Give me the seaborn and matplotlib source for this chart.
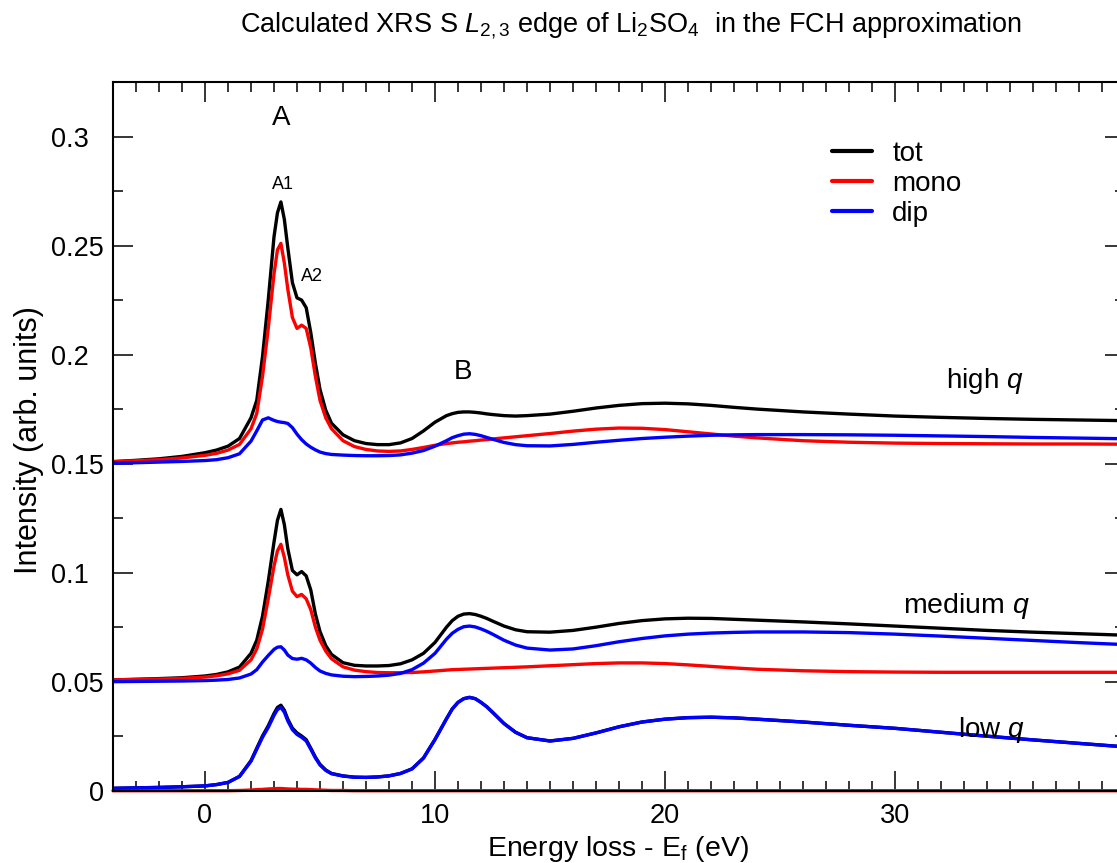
import matplotlib
matplotlib.use("Agg")
import matplotlib.pyplot as plt
import seaborn as sns
from matplotlib.ticker import MultipleLocator, FixedLocator

# ---------------- data ----------------
energy = [-4, -3, -2, -1, 0, 0.5, 1, 1.5, 2, 2.25, 2.5, 2.75, 3, 3.15, 3.3, 3.45, 3.6, 3.8,
          4.0, 4.2, 4.4, 4.6, 4.8, 5.0, 5.25, 5.5, 6, 6.5, 7, 7.5, 8, 8.5, 9, 9.5, 10, 10.5,
          10.75, 11, 11.25, 11.5, 11.75, 12, 12.25, 12.5, 13, 13.5, 14, 15, 16, 17, 18, 19,
          20, 21, 22, 23, 24, 26, 28, 30, 32, 34, 36, 38, 40]

high_tot = [0.1509, 0.1515, 0.1522, 0.1533, 0.1550, 0.1562, 0.1580, 0.1615, 0.1710, 0.1790,
            0.1990, 0.2250, 0.2540, 0.2650, 0.2700, 0.2620, 0.2490, 0.2330, 0.2260, 0.2250,
            0.2215, 0.2100, 0.1960, 0.1840, 0.1745, 0.1685, 0.1632, 0.1605, 0.1592, 0.1587,
            0.1587, 0.1595, 0.1615, 0.1650, 0.1690, 0.1720,
            0.1729, 0.1735, 0.1737, 0.1737, 0.1735, 0.1732, 0.1728, 0.1725,
            0.1720, 0.1718, 0.1720, 0.1727, 0.1740, 0.1755, 0.1767, 0.1775, 0.1777, 0.1774,
            0.1767, 0.1758, 0.1750, 0.1737, 0.1727, 0.1718, 0.1712, 0.1707, 0.1703, 0.1700,
            0.1697]
high_mono = [0.1509, 0.1513, 0.1518, 0.1526, 0.1538, 0.1547, 0.1562, 0.1588, 0.1660, 0.1730,
             0.1900, 0.2120, 0.2370, 0.2480, 0.2510, 0.2420, 0.2300, 0.2170, 0.2120, 0.2135,
             0.2120, 0.2030, 0.1900, 0.1790, 0.1710, 0.1660, 0.1605, 0.1578, 0.1565, 0.1558,
             0.1556, 0.1558, 0.1565, 0.1574, 0.1584, 0.1592,
             0.1595, 0.1598, 0.1600, 0.1603, 0.1605, 0.1608, 0.1610, 0.1613,
             0.1618, 0.1623, 0.1628, 0.1638, 0.1649, 0.1658, 0.1663, 0.1662, 0.1656, 0.1646,
             0.1636, 0.1626, 0.1618, 0.1605, 0.1598, 0.1594, 0.1592, 0.1591, 0.1590, 0.1590,
             0.1589]
high_dip = [0.1502, 0.1504, 0.1507, 0.1510, 0.1514, 0.1518, 0.1527, 0.1545, 0.1603, 0.1650,
            0.1700, 0.1710, 0.1698, 0.1693, 0.1690, 0.1688, 0.1684, 0.1665, 0.1635, 0.1610,
            0.1590, 0.1575, 0.1563, 0.1553, 0.1546, 0.1542, 0.1539, 0.1537, 0.1536, 0.1536,
            0.1537, 0.1540, 0.1548, 0.1560, 0.1580, 0.1605,
            0.1619, 0.1628, 0.1635, 0.1637, 0.1634, 0.1628, 0.1620, 0.1612,
            0.1597, 0.1587, 0.1582, 0.1581, 0.1588, 0.1598, 0.1607, 0.1615, 0.1621, 0.1626,
            0.1630, 0.1632, 0.1633, 0.1633, 0.1632, 0.1630, 0.1627, 0.1624, 0.1620, 0.1617,
            0.1614]

med_tot = [0.0508, 0.0511, 0.0514, 0.0518, 0.0526, 0.0533, 0.0545, 0.0567, 0.0630, 0.0690,
           0.0800, 0.0960, 0.1140, 0.1240, 0.1290, 0.1220, 0.1110, 0.1010, 0.0990, 0.1005,
           0.0985, 0.0920, 0.0810, 0.0730, 0.0665, 0.0625, 0.0587, 0.0575, 0.0572, 0.0572,
           0.0574, 0.0582, 0.0600, 0.0630, 0.0680, 0.0750,
           0.0780, 0.0800, 0.0810, 0.0812, 0.0808, 0.0800, 0.0790, 0.0778,
           0.0755, 0.0738, 0.0729, 0.0727, 0.0735, 0.0750, 0.0767, 0.0780, 0.0788, 0.0791,
           0.0790, 0.0786, 0.0782, 0.0774, 0.0765, 0.0755, 0.0745, 0.0735, 0.0727, 0.0720,
           0.0713]
med_mono = [0.0508, 0.0510, 0.0512, 0.0515, 0.0521, 0.0527, 0.0536, 0.0552, 0.0600, 0.0650,
            0.0740, 0.0880, 0.1030, 0.1100, 0.1130, 0.1070, 0.0990, 0.0915, 0.0890, 0.0900,
            0.0880, 0.0830, 0.0750, 0.0690, 0.0640, 0.0605, 0.0568, 0.0553, 0.0546, 0.0542,
            0.0541, 0.0541, 0.0542, 0.0545, 0.0549, 0.0553,
            0.0555, 0.0556, 0.0557, 0.0558, 0.0559, 0.0560, 0.0561, 0.0562,
            0.0564, 0.0566, 0.0568, 0.0573, 0.0578, 0.0583, 0.0586, 0.0586, 0.0583, 0.0577,
            0.0570, 0.0563, 0.0557, 0.0550, 0.0546, 0.0544, 0.0543, 0.0543, 0.0543, 0.0543,
            0.0543]
med_dip = [0.0500, 0.0501, 0.0502, 0.0503, 0.0505, 0.0507, 0.0510, 0.0517, 0.0535, 0.0555,
           0.0590, 0.0620, 0.0648, 0.0658, 0.0660, 0.0645, 0.0622, 0.0606, 0.0603, 0.0607,
           0.0600, 0.0585, 0.0565, 0.0549, 0.0538, 0.0531, 0.0525, 0.0523, 0.0524, 0.0526,
           0.0530, 0.0538, 0.0555, 0.0585, 0.0630, 0.0695,
           0.0722, 0.0740, 0.0752, 0.0755, 0.0751, 0.0742, 0.0731, 0.0718,
           0.0690, 0.0668, 0.0654, 0.0645, 0.0650, 0.0665, 0.0683, 0.0698, 0.0710, 0.0718,
           0.0723, 0.0726, 0.0728, 0.0728, 0.0725, 0.0718, 0.0709, 0.0699, 0.0689, 0.0679,
           0.0670]

low_tot = [0.0011, 0.0013, 0.0015, 0.0018, 0.0022, 0.0028, 0.0038, 0.0066, 0.0138, 0.0195,
           0.0251, 0.0298, 0.0354, 0.0382, 0.0392, 0.0369, 0.0328, 0.0287, 0.0265, 0.0251,
           0.0234, 0.0195, 0.0154, 0.0121, 0.0095, 0.0079, 0.0068, 0.0062, 0.0061, 0.0063,
           0.0068, 0.0079, 0.0100, 0.0150, 0.0235, 0.0330,
           0.0375, 0.0405, 0.0422, 0.0428, 0.0422, 0.0405, 0.0385, 0.0360,
           0.0308, 0.0268, 0.0243, 0.0228, 0.0240, 0.0265, 0.0293, 0.0315, 0.0328, 0.0335,
           0.0337, 0.0334, 0.0328, 0.0315, 0.0300, 0.0286, 0.0268, 0.0250, 0.0233, 0.0217,
           0.0201]
low_mono = [0.0000, 0.0000, 0.0000, 0.0000, 0.0000, 0.0000, 0.0000, 0.0001, 0.0003, 0.0005,
            0.0006, 0.0008, 0.0009, 0.0010, 0.0010, 0.0009, 0.0008, 0.0007, 0.0007, 0.0006,
            0.0006, 0.0005, 0.0004, 0.0003, 0.0002, 0.0001, 0.0001, 0.0000, 0.0000, 0.0000,
            0.0000, 0.0000, 0.0000, 0.0000, 0.0000, 0.0000,
            0.0000, 0.0000, 0.0000, 0.0000, 0.0000, 0.0000, 0.0000, 0.0000,
            0.0000, 0.0000, 0.0000, 0.0000, 0.0000, 0.0000, 0.0000, 0.0000, 0.0000, 0.0000,
            0.0000, 0.0000, 0.0000, 0.0000, 0.0000, 0.0000, 0.0000, 0.0000, 0.0000, 0.0000,
            0.0000]
low_dip = [0.0011, 0.0013, 0.0015, 0.0018, 0.0022, 0.0028, 0.0038, 0.0065, 0.0135, 0.0190,
           0.0245, 0.0290, 0.0345, 0.0372, 0.0382, 0.0360, 0.0320, 0.0280, 0.0258, 0.0245,
           0.0228, 0.0190, 0.0150, 0.0118, 0.0093, 0.0078, 0.0067, 0.0062, 0.0061, 0.0063,
           0.0068, 0.0079, 0.0100, 0.0150, 0.0235, 0.0330,
           0.0375, 0.0405, 0.0422, 0.0428, 0.0422, 0.0405, 0.0385, 0.0360,
           0.0308, 0.0268, 0.0243, 0.0228, 0.0240, 0.0265, 0.0293, 0.0315, 0.0328, 0.0335,
           0.0337, 0.0334, 0.0328, 0.0315, 0.0300, 0.0286, 0.0268, 0.0250, 0.0233, 0.0217,
           0.0201]

series_names = ["tot", "mono", "dip"]
series_colors = {"tot": "#000000", "mono": "#ff0000", "dip": "#0000ff"}
groups = [
    ("high", {"tot": high_tot, "mono": high_mono, "dip": high_dip}),
    ("medium", {"tot": med_tot, "mono": med_mono, "dip": med_dip}),
    ("low", {"tot": low_tot, "mono": low_mono, "dip": low_dip}),
]

yticks = [0, 0.05, 0.1, 0.15, 0.2, 0.25, 0.3]
ytick_labels = ["0", "0.05", "0.1\u2007", "0.15", "0.2\u2007", "0.25", "0.3\u2007"]
xticks = [0, 10, 20, 30]

# ---------------- style ----------------
sns.set_theme(style="ticks")
plt.rcParams["font.family"] = ["Liberation Sans", "DejaVu Sans"]
plt.rcParams["mathtext.fontset"] = "custom"
plt.rcParams["mathtext.rm"] = "Liberation Sans"
plt.rcParams["mathtext.it"] = "Liberation Sans:italic"
plt.rcParams["mathtext.bf"] = "Liberation Sans:bold"
for k in ["text.color", "axes.labelcolor", "xtick.color", "ytick.color", "axes.edgecolor"]:
    plt.rcParams[k] = "black"

W, H = 1117, 863
fig = plt.figure(figsize=(W / 100, H / 100), dpi=100)
ax_left, ax_right, ax_top, ax_bottom = 113, 1125, 82, 790.7
ax = fig.add_axes([ax_left / W, 1 - ax_bottom / H, (ax_right - ax_left) / W, (ax_bottom - ax_top) / H])

for level, data in groups:
    for name in series_names:
        kw = {}
        if level == "low" and name == "mono":
            kw["clip_on"] = False
        sns.lineplot(x=energy, y=data[name], ax=ax, color=series_colors[name], lw=2.4,
                     sort=False, estimator=None,
                     label=name if level == "high" else None, legend=False, **kw)

ax.set_xlim(-4, 40)
ax.set_ylim(0, 0.325)

ax.xaxis.set_major_locator(FixedLocator(xticks))
ax.xaxis.set_minor_locator(MultipleLocator(1))
ax.yaxis.set_major_locator(FixedLocator(yticks))
ax.yaxis.set_minor_locator(MultipleLocator(0.025))
ax.set_yticklabels(ytick_labels)

ax.tick_params(axis="both", which="both", direction="in", top=True, right=True,
               color="black", width=1.1, labelsize=19.5, labelcolor="black")
ax.tick_params(axis="both", which="major", length=14.4)
ax.tick_params(axis="both", which="minor", length=7.2)
ax.tick_params(axis="x", which="major", pad=9)
ax.tick_params(axis="y", which="major", pad=6.5)
for s in ax.spines.values():
    s.set_linewidth(1.5)
    s.set_color("black")

ax.set_xlabel("Energy loss - E$_\\mathrm{f}$ (eV)", fontsize=20.5)
ax.set_ylabel("Intensity (arb. units)", fontsize=22)
ax.xaxis.set_label_coords(0.499, -0.061)
ax.yaxis.set_label_coords(-0.068, 0.495)

# annotations
ax.text(3.33, 0.3086, "A", fontsize=20, ha="center", va="center")
ax.text(3.39, 0.2778, "A1", fontsize=13, ha="center", va="center")
ax.text(4.67, 0.2359, "A2", fontsize=13, ha="center", va="center")
ax.text(11.2, 0.192, "B", fontsize=20, ha="center", va="center")
ax.text(33.9, 0.188, "high $q$", fontsize=20, ha="center", va="center")
ax.text(33.1, 0.0847, "medium $q$", fontsize=20.5, ha="center", va="center")
ax.text(34.2, 0.0279, "low $q$", fontsize=20, ha="center", va="center")

leg = ax.legend(loc="upper left", bbox_to_anchor=(832 / W, 1 - 141 / H), bbox_transform=fig.transFigure,
                frameon=False, fontsize=20, handlelength=1.45, handletextpad=0.72,
                labelspacing=0.14, borderpad=0, borderaxespad=0)
for line in leg.get_lines():
    line.set_linewidth(3)

fig.text(631 / W, 1 - 26 / H,
         "Calculated XRS S $\\mathit{L}_{2,3}$ edge of Li$_2$SO$_4$  in the FCH approximation",
         fontsize=19.5, ha="center", va="center")

fig.savefig("out.png", dpi=100, facecolor="white")
